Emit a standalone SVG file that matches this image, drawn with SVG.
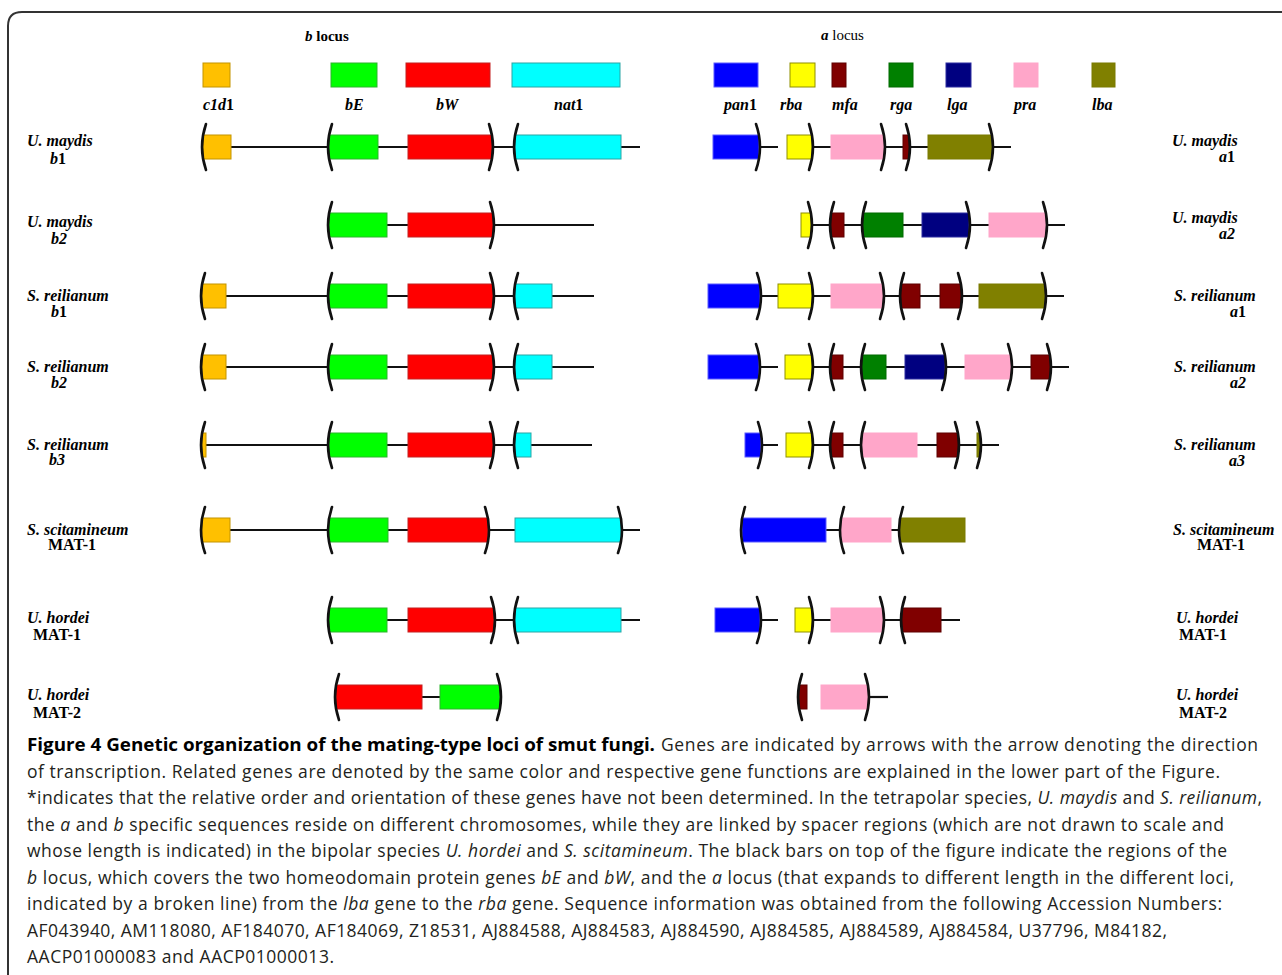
<svg xmlns="http://www.w3.org/2000/svg" width="1282" height="975" viewBox="0 0 1282 975">
<style>
.c1{fill:#FFC000;stroke:#C39400;stroke-width:1}
.bE{fill:#00FF00;stroke:#2DB52D;stroke-width:1}
.bW{fill:#FF0000;stroke:#C42020;stroke-width:1}
.nat{fill:#00FFFF;stroke:#2AA5A5;stroke-width:1}
.pan{fill:#0000FF;stroke:#5B5BFF;stroke-width:1}
.rba{fill:#FFFF00;stroke:#8F8F00;stroke-width:1}
.mfa{fill:#800000;stroke:#5E0000;stroke-width:1}
.rga{fill:#008000;stroke:#006A00;stroke-width:1}
.lga{fill:#000080;stroke:#2C2CA0;stroke-width:1}
.pra{fill:#FFA6C9;stroke:#FFA6C9;stroke-width:1}
.lba{fill:#808000;stroke:#7A7A00;stroke-width:1}
.br{fill:none;stroke:#111;stroke-width:2.6;stroke-linecap:round}
.bb{stroke:#111;stroke-width:2.2;fill:none}
.sp{font-family:"Liberation Serif",serif;font-weight:bold;font-style:italic;font-size:16px;fill:#000}
.up{font-style:normal}
.hd{font-family:"Liberation Serif",serif;font-weight:bold;font-size:15px;fill:#000}
.cap{font-family:"Open Sans",sans-serif;font-size:17.5px;fill:#231F20}
.capb{font-family:"Open Sans",sans-serif;font-size:17.5px;font-weight:bold;fill:#000}
.it{font-style:italic}
</style>

<path d="M8,990 L8,26 Q8,12 22,12 L1300,12" fill="none" stroke="#333" stroke-width="2"/>

<g id="headers">
<text class="hd" x="305" y="41"><tspan class="it">b</tspan> locus</text>
<text class="hd" x="821" y="40"><tspan class="it">a</tspan><tspan font-weight="normal"> locus</tspan></text>
</g>

<g id="legend">
<g id="leg-c1d1"><rect class="c1" x="203" y="63" width="27" height="24"/><text class="sp" x="203" y="110">c1d<tspan class="up">1</tspan></text></g>
<g id="leg-bE"><rect class="bE" x="331" y="63" width="46" height="24"/><text class="sp" x="345" y="110">bE</text></g>
<g id="leg-bW"><rect class="bW" x="406" y="63" width="84" height="24"/><text class="sp" x="436" y="110">bW</text></g>
<g id="leg-nat1"><rect class="nat" x="512" y="63" width="108" height="24"/><text class="sp" x="554" y="110">nat<tspan class="up">1</tspan></text></g>
<g id="leg-pan1"><rect class="pan" x="714" y="63" width="44" height="24"/><text class="sp" x="724" y="110">pan<tspan class="up">1</tspan></text></g>
<g id="leg-rba"><rect class="rba" x="790" y="63" width="25" height="24"/><text class="sp" x="780" y="110">rba</text></g>
<g id="leg-mfa"><rect class="mfa" x="832" y="63" width="14" height="24"/><text class="sp" x="832" y="110">mfa</text></g>
<g id="leg-rga"><rect class="rga" x="889" y="63" width="24" height="24"/><text class="sp" x="890" y="110">rga</text></g>
<g id="leg-lga"><rect class="lga" x="946" y="63" width="25" height="24"/><text class="sp" x="947" y="110">lga</text></g>
<g id="leg-pra"><rect class="pra" x="1014" y="63" width="24" height="24"/><text class="sp" x="1014" y="110">pra</text></g>
<g id="leg-lba"><rect class="lba" x="1092" y="63" width="23" height="24"/><text class="sp" x="1092" y="110">lba</text></g>
</g>

<g id="connectors">
<line class="bb" x1="203" y1="147" x2="640" y2="147"/>
<line class="bb" x1="329" y1="225" x2="594" y2="225"/>
<line class="bb" x1="202" y1="296" x2="594" y2="296"/>
<line class="bb" x1="202" y1="367" x2="594" y2="367"/>
<line class="bb" x1="202" y1="445" x2="592" y2="445"/>
<line class="bb" x1="202" y1="530" x2="640" y2="530"/>
<line class="bb" x1="329" y1="620" x2="640" y2="620"/>
<line class="bb" x1="336" y1="697" x2="500" y2="697"/>
<line class="bb" x1="713" y1="147" x2="778" y2="147"/>
<line class="bb" x1="812" y1="147" x2="1011" y2="147"/>
<line class="bb" x1="801" y1="225" x2="1065" y2="225"/>
<line class="bb" x1="708" y1="296" x2="1064" y2="296"/>
<line class="bb" x1="708" y1="367" x2="778" y2="367"/>
<line class="bb" x1="812" y1="367" x2="1069" y2="367"/>
<line class="bb" x1="745" y1="445" x2="778" y2="445"/>
<line class="bb" x1="812" y1="445" x2="999" y2="445"/>
<line class="bb" x1="742" y1="530" x2="965" y2="530"/>
<line class="bb" x1="715" y1="620" x2="778" y2="620"/>
<line class="bb" x1="812" y1="620" x2="960" y2="620"/>
<line class="bb" x1="868" y1="697" x2="888" y2="697"/>
</g>

<!-- Row 1 -->
<g id="um-b1">
<rect class="c1" x="203" y="135" width="28" height="24"/><path class="br" d="M206,124 Q198,147 206,170"/>
<rect class="bE" x="329" y="135" width="49" height="24"/><path class="br" d="M332,124 Q324,147 332,170"/>
<rect class="bW" x="408" y="135" width="84" height="24"/><path class="br" d="M489,124 Q497,147 489,170"/>
<rect class="nat" x="515" y="135" width="106" height="24"/><path class="br" d="M518,124 Q510,147 518,170"/>
</g>
<g id="um-a1">
<rect class="pan" x="713" y="135" width="46" height="24"/><path class="br" d="M756,124 Q764,147 756,170"/>
<rect class="rba" x="787" y="135" width="25" height="24"/><path class="br" d="M809,124 Q817,147 809,170"/>
<rect class="pra" x="831" y="135" width="53" height="24"/><path class="br" d="M881,124 Q889,147 881,170"/>
<rect class="mfa" x="903" y="135" width="6" height="24"/><path class="br" d="M906,124 Q914,147 906,170"/>
<rect class="lba" x="928" y="135" width="64" height="24"/><path class="br" d="M989,124 Q997,147 989,170"/>
</g>

<!-- Row 2 -->
<g id="um-b2">
<rect class="bE" x="329" y="213" width="58" height="24"/><path class="br" d="M332,202 Q324,225 332,248"/>
<rect class="bW" x="408" y="213" width="85" height="24"/><path class="br" d="M490,202 Q498,225 490,248"/>
</g>
<g id="um-a2">
<rect class="rba" x="801" y="213" width="10" height="24"/><path class="br" d="M808,202 Q816,225 808,248"/>
<rect class="mfa" x="831" y="213" width="13" height="24"/><path class="br" d="M834,202 Q826,225 834,248"/>
<rect class="rga" x="863" y="213" width="40" height="24"/><path class="br" d="M866,202 Q858,225 866,248"/>
<rect class="lga" x="922" y="213" width="47" height="24"/><path class="br" d="M966,202 Q974,225 966,248"/>
<rect class="pra" x="989" y="213" width="57" height="24"/><path class="br" d="M1043,202 Q1051,225 1043,248"/>
</g>

<!-- Row 3 -->
<g id="sr-b1">
<rect class="c1" x="202" y="284" width="24" height="24"/><path class="br" d="M205,273 Q197,296 205,319"/>
<rect class="bE" x="329" y="284" width="58" height="24"/><path class="br" d="M332,273 Q324,296 332,319"/>
<rect class="bW" x="408" y="284" width="85" height="24"/><path class="br" d="M490,273 Q498,296 490,319"/>
<rect class="nat" x="515" y="284" width="37" height="24"/><path class="br" d="M518,273 Q510,296 518,319"/>
</g>
<g id="sr-a1">
<rect class="pan" x="708" y="284" width="52" height="24"/><path class="br" d="M757,273 Q765,296 757,319"/>
<rect class="rba" x="778" y="284" width="34" height="24"/><path class="br" d="M809,273 Q817,296 809,319"/>
<rect class="pra" x="831" y="284" width="52" height="24"/><path class="br" d="M880,273 Q888,296 880,319"/>
<rect class="mfa" x="901" y="284" width="19" height="24"/><path class="br" d="M904,273 Q896,296 904,319"/>
<rect class="mfa" x="940" y="284" width="21" height="24"/><path class="br" d="M958,273 Q966,296 958,319"/>
<rect class="lba" x="979" y="284" width="66" height="24"/><path class="br" d="M1042,273 Q1050,296 1042,319"/>
</g>

<!-- Row 4 -->
<g id="sr-b2">
<rect class="c1" x="202" y="355" width="24" height="24"/><path class="br" d="M205,344 Q197,367 205,390"/>
<rect class="bE" x="329" y="355" width="58" height="24"/><path class="br" d="M332,344 Q324,367 332,390"/>
<rect class="bW" x="408" y="355" width="85" height="24"/><path class="br" d="M490,344 Q498,367 490,390"/>
<rect class="nat" x="515" y="355" width="37" height="24"/><path class="br" d="M518,344 Q510,367 518,390"/>
</g>
<g id="sr-a2">
<rect class="pan" x="708" y="355" width="51" height="24"/><path class="br" d="M756,344 Q764,367 756,390"/>
<rect class="rba" x="785" y="355" width="27" height="24"/><path class="br" d="M809,344 Q817,367 809,390"/>
<rect class="mfa" x="831" y="355" width="12" height="24"/><path class="br" d="M834,344 Q826,367 834,390"/>
<rect class="rga" x="862" y="355" width="24" height="24"/><path class="br" d="M865,344 Q857,367 865,390"/>
<rect class="lga" x="905" y="355" width="40" height="24"/><path class="br" d="M942,344 Q950,367 942,390"/>
<rect class="pra" x="965" y="355" width="46" height="24"/><path class="br" d="M1008,344 Q1016,367 1008,390"/>
<rect class="mfa" x="1031" y="355" width="19" height="24"/><path class="br" d="M1047,344 Q1055,367 1047,390"/>
</g>

<!-- Row 5 -->
<g id="sr-b3">
<rect class="c1" x="202" y="433" width="4" height="24"/><path class="br" d="M205,422 Q197,445 205,468"/>
<rect class="bE" x="329" y="433" width="58" height="24"/><path class="br" d="M332,422 Q324,445 332,468"/>
<rect class="bW" x="408" y="433" width="85" height="24"/><path class="br" d="M490,422 Q498,445 490,468"/>
<rect class="nat" x="515" y="433" width="16" height="24"/><path class="br" d="M518,422 Q510,445 518,468"/>
</g>
<g id="sr-a3">
<rect class="pan" x="745" y="433" width="16" height="24"/><path class="br" d="M758,422 Q766,445 758,468"/>
<rect class="rba" x="786" y="433" width="26" height="24"/><path class="br" d="M809,422 Q817,445 809,468"/>
<rect class="mfa" x="831" y="433" width="12" height="24"/><path class="br" d="M834,422 Q826,445 834,468"/>
<rect class="pra" x="862" y="433" width="55" height="24"/><path class="br" d="M865,422 Q857,445 865,468"/>
<rect class="mfa" x="937" y="433" width="21" height="24"/><path class="br" d="M955,422 Q963,445 955,468"/>
<rect class="lba" x="977" y="433" width="3" height="24"/><path class="br" d="M977,422 Q985,445 977,468"/>
</g>

<!-- Row 6 -->
<g id="ss-mat1-b">
<rect class="c1" x="202" y="518" width="28" height="24"/><path class="br" d="M205,507 Q197,530 205,553"/>
<rect class="bE" x="329" y="518" width="59" height="24"/><path class="br" d="M332,507 Q324,530 332,553"/>
<rect class="bW" x="408" y="518" width="80" height="24"/><path class="br" d="M485,507 Q493,530 485,553"/>
<rect class="nat" x="515" y="518" width="106" height="24"/><path class="br" d="M618,507 Q626,530 618,553"/>
</g>
<g id="ss-mat1-a">
<rect class="pan" x="742" y="518" width="84" height="24"/><path class="br" d="M745,507 Q737,530 745,553"/>
<rect class="pra" x="841" y="518" width="50" height="24"/><path class="br" d="M844,507 Q836,530 844,553"/>
<rect class="lba" x="900" y="518" width="65" height="24"/><path class="br" d="M903,507 Q895,530 903,553"/>
</g>

<!-- Row 7 -->
<g id="uh-mat1-b">
<rect class="bE" x="329" y="608" width="58" height="24"/><path class="br" d="M332,597 Q324,620 332,643"/>
<rect class="bW" x="408" y="608" width="86" height="24"/><path class="br" d="M491,597 Q499,620 491,643"/>
<rect class="nat" x="515" y="608" width="106" height="24"/><path class="br" d="M518,597 Q510,620 518,643"/>
</g>
<g id="uh-mat1-a">
<rect class="pan" x="715" y="608" width="45" height="24"/><path class="br" d="M757,597 Q765,620 757,643"/>
<rect class="rba" x="795" y="608" width="17" height="24"/><path class="br" d="M809,597 Q817,620 809,643"/>
<rect class="pra" x="831" y="608" width="52" height="24"/><path class="br" d="M880,597 Q888,620 880,643"/>
<rect class="mfa" x="902" y="608" width="39" height="24"/><path class="br" d="M905,597 Q897,620 905,643"/>
</g>

<!-- Row 8 -->
<g id="uh-mat2-b">
<rect class="bW" x="336" y="685" width="86" height="24"/><path class="br" d="M339,674 Q331,697 339,720"/>
<rect class="bE" x="440" y="685" width="60" height="24"/><path class="br" d="M497,674 Q505,697 497,720"/>
</g>
<g id="uh-mat2-a">
<rect class="mfa" x="799" y="685" width="8" height="24"/><path class="br" d="M802,674 Q794,697 802,720"/>
<rect class="pra" x="821" y="685" width="47" height="24"/><path class="br" d="M865,674 Q873,697 865,720"/>
</g>

<g id="labels-left">
<text class="sp" x="27" y="146">U. maydis</text><text class="sp" x="50" y="164">b<tspan class="up">1</tspan></text>
<text class="sp" x="27" y="227">U. maydis</text><text class="sp" x="51" y="244">b2</text>
<text class="sp" x="27" y="301">S. reilianum</text><text class="sp" x="51" y="317">b<tspan class="up">1</tspan></text>
<text class="sp" x="27" y="372">S. reilianum</text><text class="sp" x="51" y="388">b2</text>
<text class="sp" x="27" y="450">S. reilianum</text><text class="sp" x="49" y="465">b3</text>
<text class="sp" x="27" y="535">S. scitamineum</text><text class="sp up" x="48" y="550">MAT-1</text>
<text class="sp" x="27" y="623">U. hordei</text><text class="sp up" x="33" y="640">MAT-1</text>
<text class="sp" x="27" y="700">U. hordei</text><text class="sp up" x="33" y="718">MAT-2</text>
</g>
<g id="labels-right">
<text class="sp" x="1172" y="146">U. maydis</text><text class="sp" x="1219" y="162">a<tspan class="up">1</tspan></text>
<text class="sp" x="1172" y="223">U. maydis</text><text class="sp" x="1219" y="239">a2</text>
<text class="sp" x="1174" y="301">S. reilianum</text><text class="sp" x="1230" y="317">a<tspan class="up">1</tspan></text>
<text class="sp" x="1174" y="372">S. reilianum</text><text class="sp" x="1230" y="388">a2</text>
<text class="sp" x="1174" y="450">S. reilianum</text><text class="sp" x="1229" y="466">a3</text>
<text class="sp" x="1173" y="535">S. scitamineum</text><text class="sp up" x="1197" y="550">MAT-1</text>
<text class="sp" x="1176" y="623">U. hordei</text><text class="sp up" x="1179" y="640">MAT-1</text>
<text class="sp" x="1176" y="700">U. hordei</text><text class="sp up" x="1179" y="718">MAT-2</text>
</g>

<g id="caption">
<text class="capb" x="27" y="751" textLength="628" lengthAdjust="spacingAndGlyphs">Figure 4 Genetic organization of the mating-type loci of smut fungi.</text>
<text class="cap" x="661" y="751" textLength="597" lengthAdjust="spacing">Genes are indicated by arrows with the arrow denoting the direction</text>
<text class="cap" x="27" y="777.5" textLength="1193" lengthAdjust="spacing">of transcription. Related genes are denoted by the same color and respective gene functions are explained in the lower part of the Figure.</text>
<text class="cap" x="27" y="804" textLength="1235" lengthAdjust="spacing">*indicates that the relative order and orientation of these genes have not been determined. In the tetrapolar species, <tspan class="it">U. maydis</tspan> and <tspan class="it">S. reilianum</tspan>,</text>
<text class="cap" x="27" y="830.5" textLength="1197" lengthAdjust="spacing">the <tspan class="it">a</tspan> and <tspan class="it">b</tspan> specific sequences reside on different chromosomes, while they are linked by spacer regions (which are not drawn to scale and</text>
<text class="cap" x="27" y="857" textLength="1200" lengthAdjust="spacing">whose length is indicated) in the bipolar species <tspan class="it">U. hordei</tspan> and <tspan class="it">S. scitamineum</tspan>. The black bars on top of the figure indicate the regions of the</text>
<text class="cap" x="27" y="883.5" textLength="1207" lengthAdjust="spacing"><tspan class="it">b</tspan> locus, which covers the two homeodomain protein genes <tspan class="it">bE</tspan> and <tspan class="it">bW</tspan>, and the <tspan class="it">a</tspan> locus (that expands to different length in the different loci,</text>
<text class="cap" x="27" y="910" textLength="1195" lengthAdjust="spacing">indicated by a broken line) from the <tspan class="it">lba</tspan> gene to the <tspan class="it">rba</tspan> gene. Sequence information was obtained from the following Accession Numbers:</text>
<text class="cap" x="27" y="936.5" textLength="1140" lengthAdjust="spacing">AF043940, AM118080, AF184070, AF184069, Z18531, AJ884588, AJ884583, AJ884590, AJ884585, AJ884589, AJ884584, U37796, M84182,</text>
<text class="cap" x="27" y="963" textLength="307" lengthAdjust="spacing">AACP01000083 and AACP01000013.</text>
</g>
</svg>
